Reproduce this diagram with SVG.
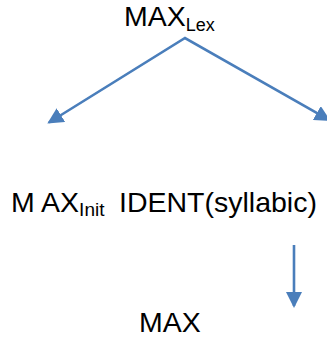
<svg xmlns="http://www.w3.org/2000/svg" width="327" height="338" viewBox="0 0 327 338">
<defs>
<style>
.t{font-family:"Liberation Sans",Arial,sans-serif;font-size:28.5px;fill:#000}
.s{font-size:18px}
.s2{font-size:19px}
.c{stroke:#4a7ebb;stroke-width:2.6;fill:none}
</style>
<marker id="ah" viewBox="0 0 16 16" refX="14" refY="8" markerWidth="16" markerHeight="16" markerUnits="userSpaceOnUse" orient="auto">
<path d="M0,0 L16,8 L0,16 z" fill="#4a7ebb"/>
</marker>
<marker id="ahs" viewBox="0 0 16 16" refX="2" refY="8" markerWidth="16" markerHeight="16" markerUnits="userSpaceOnUse" orient="auto">
<path d="M16,0 L0,8 L16,16 z" fill="#4a7ebb"/>
</marker>
</defs>
<rect width="327" height="338" fill="#fff"/>
<g id="connectors">
<polyline class="c" points="49,122.5 185,38 329,120" marker-end="url(#ah)" marker-start="url(#ahs)"/>
<line class="c" x1="294" y1="245" x2="294" y2="306" marker-end="url(#ah)"/>
</g>
<g id="max-lex">
<text class="t" x="124" y="26">MAX<tspan class="s" dy="5">Lex</tspan></text>
</g>
<g id="max-init">
<text class="t" x="11" y="212">M AX<tspan class="s2" dy="4">Init</tspan></text>
</g>
<g id="ident">
<text class="t" x="119" y="212">IDENT(syllabic)</text>
</g>
<g id="max">
<text class="t" x="139" y="332">MAX</text>
</g>
</svg>
